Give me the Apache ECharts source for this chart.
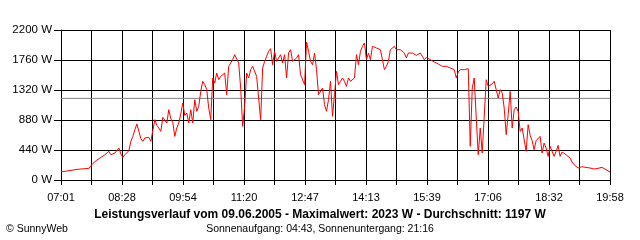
<!DOCTYPE html>
<html>
<head>
<meta charset="utf-8">
<script src="https://cdn.jsdelivr.net/npm/echarts@6/dist/echarts.min.js"></script>
<style>
html,body{margin:0;padding:0;background:#fff;}
#c{width:640px;height:240px;}
</style>
</head>
<body>
<div id="c"></div>
<script>
// Time axis: seconds since 07:01, chart spans 07:01 .. 19:58
const SPAN_S = 46620;          // 07:01 -> 19:58
const TICK_STEP_S = 2590;      // grid column width
const TICK_LABELS = ['07:01','08:28','09:54','11:20','12:47','14:13','15:39','17:06','18:32','19:58'];
const Y_TICKS = [0, 440, 880, 1320, 1760, 2200];

// Power readings (W), evenly sampled from 07:01 to 19:58
const power0701 = [120,122,127,130,137,141,146,151,156,156,161,161,166,166,171,185,244,273,293,312,332,347,371,386,420,371,381,396,410,469,381,332,371,400,430,567,640,738,821];
const power0850 = [714,606,567,616,591,625,567,542,885,801,762,714,919,948,836,1031,900,846,640,762,836,968,1129,948,983,836,1031,836,1178,1007,1080,1300,1447,1398,1325,1056,885,1496,1422];
const power1041 = [1569,1471,1520,1496,1569,1251,1667,1642,1765,1838,1814,1716,1349,787,1080,1569,1496,1618,1667,1691,1520,1496,885,1642,1740,1814,1887,1926,1691,1887,1740,1765,1838,1716,1838,1496,1862,1911,1740];
const power1231 = [1740,1789,1838,1545,1520,1398,2023,1887,1740,1691,1862,1618,1251,1227,1349,1105,1007,1178,1447,934,1251,1594,1398,1447,1496,1447,1373,1496,1447,1447,1496,1838,1691,1887,1960,2009,1765,1862,1765];
const power1421 = [1960,1960,1936,1936,1911,1765,1618,1667,1740,1911,1887,1960,1911,1911,1911,1887,1862,1789,1862,1848,1862,1848,1828,1838,1862,1814,1765,1799,1779,1765,1750,1730,1716,1701,1682,1667,1667,1667,1652];
const power1611 = [1642,1652,1618,1496,1584,1618,1594,1618,1594,1633,494,1349,1496,909,371,762,396,410,1471,1373,1373,1408,1447,1437,1202,1325,1276,1056,665,958,1300,762,1031,1070,1007,714,762,738,420];
const power1801 = [811,655,576,445,576,591,640,396,542,469,347,494,494,347,420,508,347,410,396,371,347,322,264,225,205,176,171,195,181,185,176,176,171,161,156,171,185,185,166,151,137,117];

const AVERAGE_W = 1197;
const TITLE = 'Leistungsverlauf vom 09.06.2005 - Maximalwert: 2023 W - Durchschnitt: 1197 W';
const SUBTITLE = 'Sonnenaufgang: 04:43, Sonnenuntergang: 21:16';
const CREDIT = '\u00A9 SunnyWeb';

const power = [].concat(power0701, power0850, power1041, power1231, power1421, power1611, power1801);
const stepS = SPAN_S / (power.length - 1);
const lineData = power.map((w, i) => [i * stepS, w]);

const FONT = '"Liberation Sans", Arial, sans-serif';
const chart = echarts.init(document.getElementById('c'), null, {renderer: 'canvas'});
chart.setOption({
  backgroundColor: '#ffffff',
  animation: false,
  textStyle: {fontFamily: FONT},
  title: [
    {text: TITLE, left: 'center', top: 209, padding: 0,
     textStyle: {fontSize: 12, fontWeight: 'bold', color: '#000', fontFamily: FONT}},
    {text: SUBTITLE, left: 'center', top: 224, padding: 0,
     textStyle: {fontSize: 10.5, fontWeight: 'normal', color: '#000', fontFamily: FONT}},
    {text: CREDIT, left: 6, top: 224, padding: 0,
     textStyle: {fontSize: 10.5, fontWeight: 'normal', color: '#000', fontFamily: FONT}}
  ],
  grid: {left: 61, right: 30, top: 30, bottom: 60, containLabel: false},
  xAxis: {
    type: 'value', min: 0, max: SPAN_S, interval: TICK_STEP_S,
    axisLine: {show: true, onZero: false, lineStyle: {color: '#000', width: 1}},
    axisTick: {show: true, length: 5, lineStyle: {color: '#000', width: 1}},
    splitLine: {show: true, lineStyle: {color: '#000', width: 1}},
    axisLabel: {
      show: true, color: '#000', fontSize: 11, margin: 12, fontFamily: FONT,
      showMinLabel: true, showMaxLabel: true,
      formatter: function (v) {
        const i = Math.round(v / TICK_STEP_S);
        return i % 2 === 0 ? (TICK_LABELS[i / 2] || '') : '';
      }
    }
  },
  yAxis: {
    type: 'value', min: Y_TICKS[0], max: Y_TICKS[Y_TICKS.length - 1], interval: Y_TICKS[1] - Y_TICKS[0],
    axisLine: {show: true, lineStyle: {color: '#000', width: 1}},
    axisTick: {show: true, length: 7, lineStyle: {color: '#000', width: 1}},
    splitLine: {show: true, lineStyle: {color: '#000', width: 1}},
    axisLabel: {show: true, color: '#000', fontSize: 11.5, margin: 9, fontFamily: FONT,
      formatter: function (v) { return String(v) + ' W'; }}
  },
  series: [
    {
      type: 'line', name: 'avg', z: 1, silent: true, symbol: 'none',
      data: [[0, AVERAGE_W], [SPAN_S, AVERAGE_W]],
      lineStyle: {color: '#808080', width: 1}
    },
    {
      type: 'line', name: 'power', z: 2, silent: true, symbol: 'none', smooth: false,
      data: lineData,
      lineStyle: {color: '#ff0000', width: 1}
    }
  ]
});
</script>
</body>
</html>
